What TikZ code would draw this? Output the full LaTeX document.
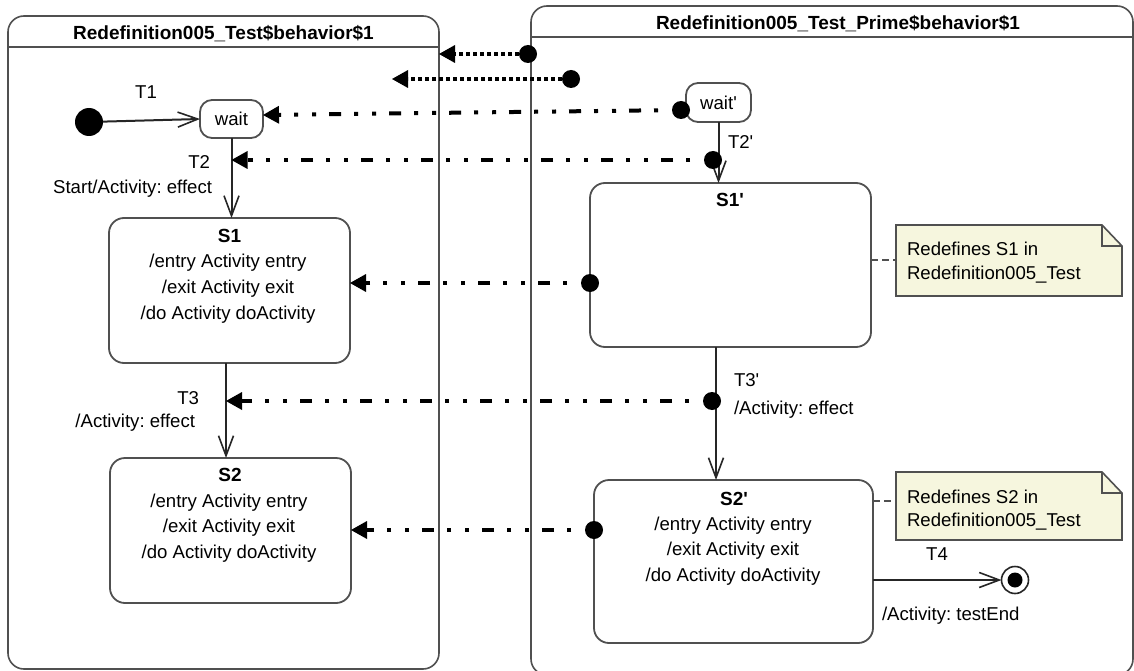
\documentclass[tikz,border=0pt]{standalone}
\usepackage{fontspec}
\setmainfont{Liberation Sans}[Ligatures=TeXOff]
\usetikzlibrary{arrows.meta}
\definecolor{edge}{RGB}{80,80,80}
\definecolor{notefill}{RGB}{246,246,222}
\newcommand\fsr{\fontsize{18.6}{22}\selectfont}
\newcommand\fsb{\fontsize{19}{22}\selectfont\bfseries}
\frenchspacing
\begin{document}
\begin{tikzpicture}[x=1pt,y=-1pt,
  every node/.style={font=\fsr, inner sep=0pt, outer sep=0pt},
  frame/.style={draw=edge, line width=1.6pt, rounded corners=16pt, rectangle},
  state/.style={draw=edge, line width=1.8pt, rounded corners=15pt, fill=white, rectangle},
  trans/.style={draw=black!85, line width=2pt, -{Straight Barb[length=20pt,width=15pt,line width=1.6pt]}},
  deptip/.style={-{Triangle[length=16pt,width=18pt,line width=0pt]}},
  dep/.style={deptip, line width=4pt, dash pattern=on 4pt off 13pt on 12pt off 13pt on 4pt off 14pt, dash phase=46pt},
  dotdep/.style={deptip, line width=4pt, dash pattern=on 4pt off 3pt},
  dot/.style={circle, fill=black, minimum size=18pt},
  notebox/.style={draw=edge, line width=1.6pt, fill=notefill, line join=miter},
  notelink/.style={draw=edge, line width=2.2pt, dash pattern=on 7pt off 4pt},
  lbl/.style={anchor=base},
  lblw/.style={anchor=base west},
  lble/.style={anchor=base east}
]
\useasboundingbox (0,0) rectangle (1134,671);
\fill[white] (0,0) rectangle (1134,671);

% frames
\node[frame, minimum width=431pt, minimum height=653pt, anchor=north west] (F1) at (8,16) {};
\draw[draw=edge, line width=1.6pt] (F1.west |- 0,47) -- (F1.east |- 0,47);
\node[lbl, font=\fsb] (F1t) at (223.5,39.3) {Redefinition005\_Test\$behavior\$1};

\node[frame, minimum width=602pt, minimum height=669pt, anchor=north west] (F2) at (531,6) {};
\draw[draw=edge, line width=1.6pt] (F2.west |- 0,37) -- (F2.east |- 0,37);
\node[lbl, font=\fsb] (F2t) at (838,29.5) {Redefinition005\_Test\_Prime\$behavior\$1};

% left states
\node[circle, fill=black, minimum size=28pt] (init) at (89,122) {};
\node[state, rounded corners=12pt, minimum width=63pt, minimum height=38pt] (wait) at (231.5,119) {wait};
\node[state, minimum width=241pt, minimum height=145pt] (S1) at (229.5,290.5) {};
\node[lbl, font=\fsb] (S1n) at (229.5,242.5) {S1};
\node[lbl] (S1a) at (228,267.5) {/entry Activity entry};
\node[lbl] (S1b) at (228,293.5) {/exit Activity exit};
\node[lbl] (S1c) at (228,319.5) {/do Activity doActivity};
\node[state, minimum width=241pt, minimum height=145pt] (S2) at (230.5,530.5) {};
\node[lbl, font=\fsb] (S2n) at (230,481.7) {S2};
\node[lbl] (S2a) at (229,507.5) {/entry Activity entry};
\node[lbl] (S2b) at (229,532.5) {/exit Activity exit};
\node[lbl] (S2c) at (229,558.5) {/do Activity doActivity};

% right states
\node[state, rounded corners=12pt, minimum width=65pt, minimum height=39pt] (waitp) at (718.5,102.5) {wait'};
\node[state, minimum width=281pt, minimum height=164pt] (S1p) at (730.5,265) {};
\node[lbl, font=\fsb] (S1pn) at (730,206.7) {S1'};
\node[state, minimum width=279pt, minimum height=163pt] (S2p) at (733.5,561.5) {};
\node[lbl, font=\fsb] (S2pn) at (734,505.7) {S2'};
\node[lbl] (S2pa) at (733,530.5) {/entry Activity entry};
\node[lbl] (S2pb) at (733,555.5) {/exit Activity exit};
\node[lbl] (S2pc) at (733,581.5) {/do Activity doActivity};
\node[circle, draw=black!85, line width=1.6pt, fill=white, minimum size=27pt] (fin) at (1015,580) {};
\fill (fin.center) circle (7.5pt);

% transitions
\draw[trans] (init) -- (wait.west);
\node[lbl] (T1) at (146,98.5) {T1};
\draw[trans] (wait.south) -- (wait.south |- S1.north);
\node[lble] (T2) at (210,168.5) {T2};
\node[lble] (T2e) at (212,193.5) {Start/Activity: effect};
\draw[trans] (S1.south -| 226,0) -- (S2.north -| 226,0);
\node[lble] (T3) at (199,404.5) {T3};
\node[lble] (T3e) at (195,427.5) {/Activity: effect};

\draw[trans] (waitp.south) -- (waitp.south |- S1p.north);
\node[lblw] (T2p) at (728,148.5) {T2'};
\draw[trans] (S1p.south -| 716,0) -- (S2p.north -| 716,0);
\node[lblw] (T3p) at (734,386.5) {T3'};
\node[lblw] (T3pe) at (734,414.5) {/Activity: effect};
\draw[trans] (S2p.east |- fin) -- (fin);
\node[lbl] (T4) at (937,560) {T4};
\node[lblw] (T4e) at (882,620.5) {/Activity: testEnd};

% notes
\node[minimum width=226pt, minimum height=71pt, anchor=north west] (N1) at (896,225) {};
\draw[notebox] (N1.north west) -- ([xshift=-20pt]N1.north east) -- ([yshift=-21pt]N1.north east) -- (N1.south east) -- (N1.south west) -- cycle;
\draw[notebox, fill=none] ([xshift=-20pt]N1.north east) -- ([xshift=-20pt,yshift=-21pt]N1.north east) -- ([yshift=-21pt]N1.north east);
\node[lblw] (N1a) at (907,255.5) {Redefines S1 in};
\node[lblw] (N1b) at (907,279.5) {Redefinition005\_Test};
\draw[notelink] (S1p.east |- 0,260) -- (N1.west |- 0,260);

\node[minimum width=226pt, minimum height=68pt, anchor=north west] (N2) at (896,472) {};
\draw[notebox] (N2.north west) -- ([xshift=-20pt]N2.north east) -- ([yshift=-21pt]N2.north east) -- (N2.south east) -- (N2.south west) -- cycle;
\draw[notebox, fill=none] ([xshift=-20pt]N2.north east) -- ([xshift=-20pt,yshift=-21pt]N2.north east) -- ([yshift=-21pt]N2.north east);
\node[lblw] (N2a) at (907,503.5) {Redefines S2 in};
\node[lblw] (N2b) at (907,526.5) {Redefinition005\_Test};
\draw[notelink] (S2p.east |- 0,501) -- (N2.west |- 0,501);

% dependency arrows
\node[dot] (c1) at (528,54) {};
\draw[dotdep] (c1) -- (F1.east |- c1);
\node[dot] (c2) at (571,79) {};
\coordinate (t2) at (392,79);
\draw[dotdep] (c2) -- (t2);
\node[dot] (c3) at (681,110) {};
\coordinate (t3) at (263,115);
\draw[dep] (c3) -- (t3);
\node[dot] (c4) at (713,160) {};
\draw[dep] (c4) -- (wait.south |- c4);
\node[dot] (c5) at (590,283) {};
\draw[dep] (c5) -- (S1.east |- c5);
\node[dot] (c6) at (712,401) {};
\draw[dep] (c6) -- (226,401);
\node[dot] (c7) at (594,530) {};
\draw[dep] (c7) -- (S2.east |- c7);
\end{tikzpicture}
\end{document}
